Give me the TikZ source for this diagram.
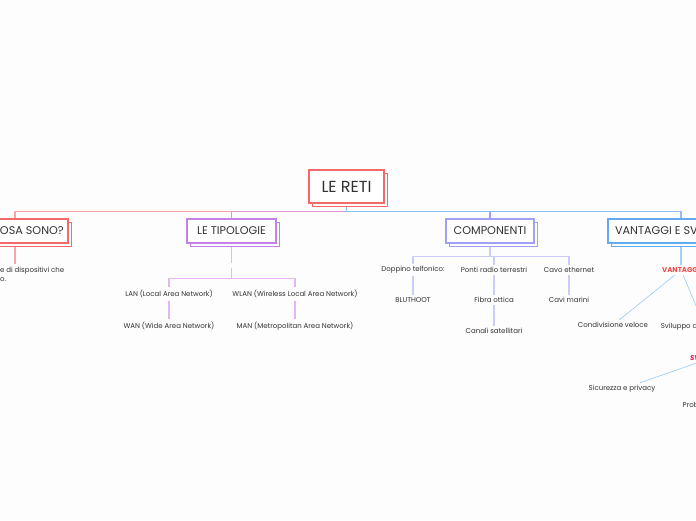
\documentclass[tikz,border=0pt]{standalone}
\usepackage{fontspec}
\setmainfont{Poppins}
\usetikzlibrary{positioning}
\usetikzlibrary{arrows.meta}
\usetikzlibrary{shadows}
\usetikzlibrary{backgrounds}
\definecolor{mapSfondo}{RGB}{253,253,253}
\definecolor{mapTesto}{RGB}{50,50,50}
\definecolor{mapRosso}{RGB}{244,106,106}
\definecolor{mapRosa}{RGB}{250,165,165}
\definecolor{mapOrchidea}{RGB}{222,150,214}
\definecolor{mapViola}{RGB}{196,130,232}
\definecolor{mapLilla}{RGB}{228,182,245}
\definecolor{mapLavanda}{RGB}{160,160,245}
\definecolor{mapLavandaChiaro}{RGB}{204,204,248}
\definecolor{mapBlu}{RGB}{100,170,240}
\definecolor{mapAzzurro}{RGB}{140,190,248}
\definecolor{mapCeleste}{RGB}{165,208,250}
\definecolor{mapRossoTesto}{RGB}{240,72,72}
\definecolor{mapCremisi}{RGB}{232,24,90}
\tikzset{
  radice/.style={
    rectangle, draw=mapRosso, line width=1.3pt, fill=white,
    minimum width=75pt, minimum height=33pt, text=mapTesto,
    font=\fontsize{16}{18}\selectfont, inner sep=4pt,
    copy shadow={shadow xshift=3.5pt, shadow yshift=-3.5pt, draw=mapRosso, fill=white, line width=1pt}
  },
  tema/.style={
    rectangle, draw=#1, line width=1.3pt, fill=white,
    minimum height=24pt, text=mapTesto,
    font=\fontsize{11.2}{13}\selectfont, inner sep=4pt,
    copy shadow={shadow xshift=3pt, shadow yshift=-3pt, draw=#1, fill=white, line width=1pt}
  },
  voce/.style={
    text=mapTesto, font=\fontsize{7}{9}\selectfont, inner sep=2.5pt
  },
  ramo/.style={line width=1.3pt, draw=#1},
  filo/.style={line width=1.1pt, draw=#1},
  punta/.style={line width=0.7pt, draw=mapCeleste, -{Circle[length=1.6pt]}}
}

\begin{document}
\begin{tikzpicture}[x=1pt, y=-1pt, node distance=14pt and 20pt]
  \useasboundingbox (0,0) rectangle (696,520);
  \clip (0,0) rectangle (696,520);

  \node[radice] (reti) at (346.5,186.5) {LE RETI};

  \node[tema=mapRosso, minimum width=106pt] (cosa) at (15,231) {CHE COSA SONO?};
  \node[tema=mapViola, minimum width=89pt] (tipologie) at (231.5,231) {LE TIPOLOGIE};
  \node[tema=mapLavanda, minimum width=88pt] (componenti) at (490,231) {COMPONENTI};
  \node[tema=mapBlu, minimum width=146pt] (vantsvant) at (681,231) {VANTAGGI E SVANTAGGI};

  \node[voce, align=left, anchor=north east] (definizione) at (67,264) {Una rete è un insieme di dispositivi che\\sono collegati tra loro.};

  \node[inner sep=0pt, minimum size=5.5pt] (vuoto) at (231.5,265.5) {};
  \node[voce] (lan) at (169,294) {LAN (Local Area Network)};
  \node[voce] (wlan) at (295,294) {WLAN (Wireless Local Area Network)};
  \node[voce] (wan) at (169,326) {WAN (Wide Area Network)};
  \node[voce] (man) at (295,326) {MAN (Metropolitan Area Network)};

  \node[voce] (doppino) at (413,270) {Doppino telfonico:};
  \node[voce] (ponti) at (494,270) {Ponti radio terrestri};
  \node[voce] (cavo) at (569,270) {Cavo ethernet};
  \node[voce] (bluthoot) at (413,300) {BLUTHOOT};
  \node[voce] (fibra) at (494,300) {Fibra ottica};
  \node[voce] (marini) at (569,300) {Cavi marini};
  \node[voce] (satelliti) at (494,331) {Canali satellitari};

  \node[voce, text=mapRossoTesto, font=\fontsize{7}{9}\selectfont\bfseries] (vantaggi) at (681,270) {VANTAGGI};
  \node[voce] (condivisione) at (613,325) {Condivisione veloce};
  \node[voce] (sviluppo) at (705,327) {Sviluppo della tecnologia};
  \node[voce, text=mapCremisi, font=\fontsize{7}{9}\selectfont\bfseries\itshape] (svantaggi) at (711,358) {SVANTAGGI};
  \node[voce] (sicurezza) at (622,389) {Sicurezza e privacy};
  \node[voce, anchor=west] (problemi) at (680,405) {Problemi di salute};

  \begin{scope}[on background layer]
    \fill[mapSfondo] (0,0) rectangle (696,520);
    \draw[ramo=mapRosa] (reti.south) -- ++(0,8) -| (cosa.north);
    \draw[ramo=mapOrchidea] (reti.south) -- ++(0,8) -| (tipologie.north);
    \draw[ramo=mapLavanda] (reti.south) -- ++(0,8) -| (componenti.north);
    \draw[ramo=mapAzzurro] (reti.south) -- ++(0,8) -| (vantsvant.north);

    \draw[filo=mapRosa] (cosa.south) -- (cosa.south |- definizione.north);

    \draw[filo=mapLilla] (tipologie.south) -- (vuoto.north);
    \draw[filo=mapLilla] (vuoto.south) -- ++(0,10) -| (lan.north);
    \draw[filo=mapLilla] (vuoto.south) -- ++(0,10) -| (wlan.north);
    \draw[filo=mapLilla] (lan) -- (wan);
    \draw[filo=mapLilla] (wlan) -- (man);

    \draw[filo=mapLavandaChiaro] (componenti.south) -- ++(0,13) -| (doppino.north);
    \draw[filo=mapLavandaChiaro] (componenti.south) -- ++(0,13) -| (ponti.north);
    \draw[filo=mapLavandaChiaro] (componenti.south) -- ++(0,13) -| (cavo.north);
    \draw[filo=mapLavandaChiaro] (doppino) -- (bluthoot);
    \draw[filo=mapLavandaChiaro] (ponti) -- (fibra);
    \draw[filo=mapLavandaChiaro] (fibra) -- (satelliti);
    \draw[filo=mapLavandaChiaro] (cavo) -- (marini);

    \draw[filo=mapCeleste] (vantsvant.south) -- (vantaggi.north);
  \end{scope}
  \draw[punta] (vantaggi) -- (condivisione);
  \draw[punta] (vantaggi) -- (sviluppo);
  \draw[punta] (svantaggi) -- (sicurezza);
\end{tikzpicture}
\end{document}
